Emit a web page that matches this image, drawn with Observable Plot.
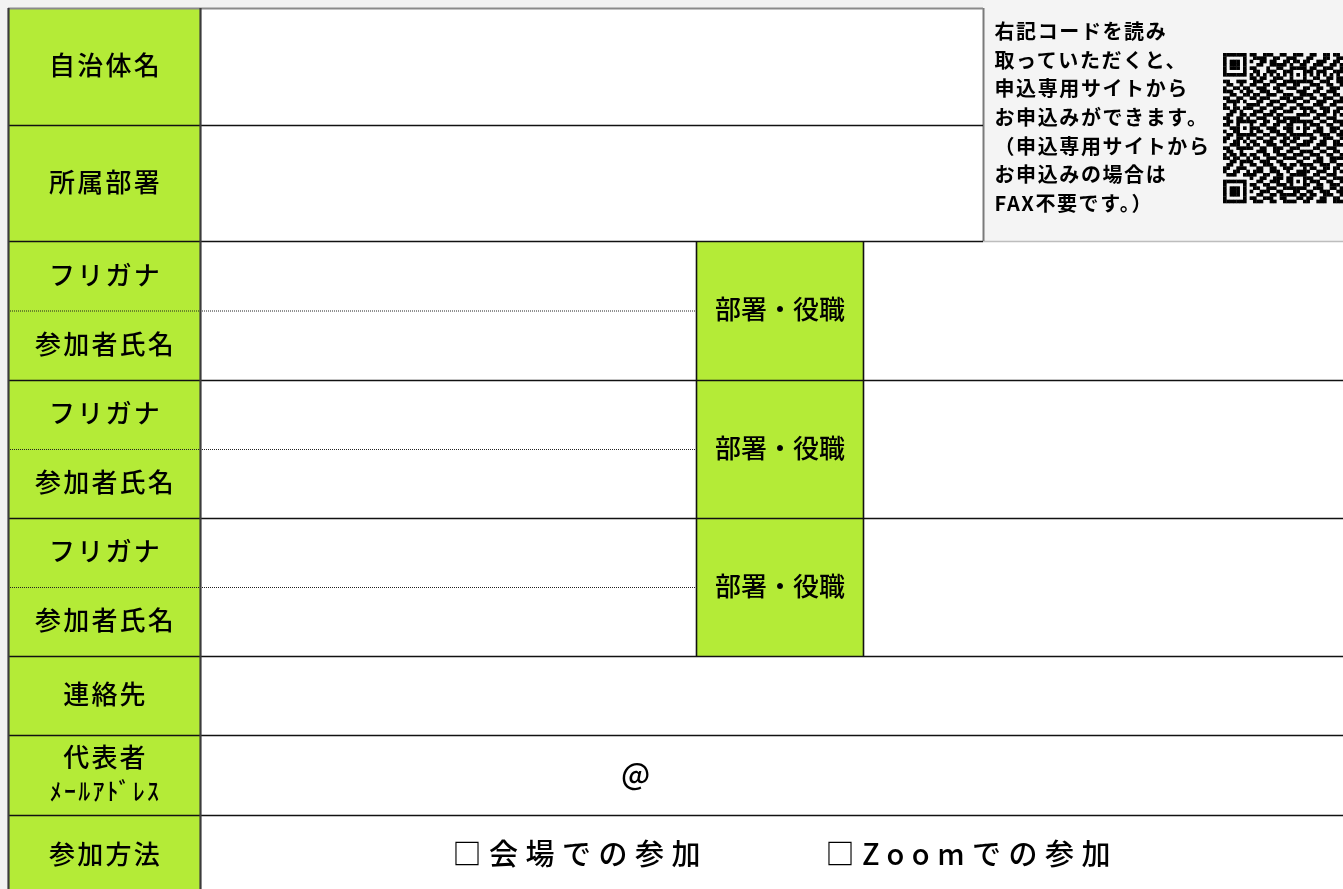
<!DOCTYPE html>
<html>
<head>
<meta charset="utf-8">
<script src="https://cdn.jsdelivr.net/npm/d3@7"></script>
<script src="https://cdn.jsdelivr.net/npm/@observablehq/plot@0.6"></script>
<style>
  html, body { margin: 0; padding: 0; background: #f2f2f2; overflow: hidden; }
  #chart svg { display: block; will-change: transform; }
</style>
</head>
<body>
<div id="chart"></div>
<script>
// ---------- content ----------
const headerLabels = ["自治体名", "所属部署"];
const participantLabels = ["フリガナ", "参加者氏名"];
const participantCount = 3;
const roleLabel = "部署・役職";
const contactLabels = [["連絡先"], ["代表者", "ﾒｰﾙｱﾄﾞﾚｽ"], ["参加方法"]];
const emailMark = "@";
const attendOptions = ["□会場での参加", "□Zoomでの参加"];
const qrNote = [
  "右記コードを読み",
  "取っていただくと、",
  "申込専用サイトから",
  "お申込みができます。",
  "（申込専用サイトから",
  "お申込みの場合は",
  "FAX不要です。）"
];
// QR code modules (1 = dark), visible columns only
const qrRows = [
  "11111110" + "110011100110" + "01110" + "011001101100",
  "10000010" + "011110011001" + "11000" + "110001100111",
  "10111010" + "100110110011" + "01101" + "100111001100",
  "10111010" + "001100111110" + "10011" + "001110011011",
  "10111010" + "110001001100" + "11111" + "011001110011",
  "10000010" + "011001110011" + "10001" + "110111001110",
  "11111110" + "101010101010" + "10101" + "010101010101",
  "00000000" + "110110011100" + "10001" + "001100110110",
  "11001110" + "011100110011" + "11111" + "110011100110",
  "01100100" + "110011001110" + "01100" + "011100110011",
  "10011011" + "001110011001" + "11001" + "100110011100",
  "11100101" + "100111001100" + "00111" + "001100111001",
  "00110011" + "011001110011" + "10011" + "110011001101",
  "11001100" + "110111000111" + "01110" + "011001110010",
  "01111010" + "001100111001" + "11001" + "100111001111",
  "10010001" + "111001100110" + "00110" + "001110011001",
  "11011011" + "100110011100" + "11011" + "110011100110",
  "00110100" + "011100110011" + "10001" + "011001101100",
  "01100110" + "110011101100" + "00111" + "100111001011",
  "11001101" + "001110011011" + "11100" + "001100111001",
  "01101111" + "110011001110" + "11111" + "110011001110",
  "11001000" + "100110011001" + "10001" + "011100110011",
  "00111010" + "111001110011" + "10101" + "100110011100",
  "10011000" + "101100111001" + "10001" + "001110011011",
  "01101111" + "110011001110" + "11111" + "110011100110",
  "11001101" + "001100110011" + "01100" + "011001110011",
  "10011010" + "110011100110" + "11001" + "110011001100",
  "00111001" + "011001110011" + "00111" + "100111001110",
  "11001111" + "100110011100" + "11100" + "001100111001",
  "01100100" + "001110011001" + "10011" + "110011001101",
  "10110110" + "110011001110" + "01110" + "011100110010",
  "11011001" + "011001110011" + "11001" + "100110011111",
  "00110111" + "100111001100" + "00110" + "001110011001",
  "01100100" + "110011100110" + "11011" + "110011100110",
  "11001110" + "001100110011" + "10001" + "011001101100",
  "10011001" + "011100111001" + "00111" + "100111001011",
  "01110011" + "110011001100" + "11111" + "001100111001",
  "00000000" + "100110011101" + "10001" + "110011001110",
  "11111110" + "001100111001" + "10101" + "011100110011",
  "10000010" + "110011001110" + "10001" + "100110011100",
  "10111010" + "011001110011" + "11111" + "001110011011",
  "10111010" + "100111001100" + "01100" + "110011100110",
  "10111010" + "001100110111" + "11011" + "011001110011",
  "10000010" + "110011100110" + "00110" + "110011001100",
  "11111110" + "011100110011" + "11001" + "100111001110"
];
const qrModules = 45; // modules per side (the right part is cut off in the picture)

// ---------- layout (form units) ----------
const W = 1343, H = 889;
const colEdges = [8, 200, 696, 863, 983, 1343];
const rowEdges = [8, 125, 241, 380, 518, 656, 735, 815, 895];
const qrBox = {left: 1223, top: 53, size: 150};
const noteBox = {left: 994, mid: 118, lineGap: 28.6};
const emailX = 635;
const optionX = [452, 825];
const twoLineGap = 34;

// ---------- styles ----------
const JP = "'Noto Sans CJK JP', 'Noto Sans', sans-serif";
const GREEN = "#b4eb37";

// ---------- derived tables ----------
const mid = (a, b) => (a + b) / 2;
const labelCells = [];
headerLabels.forEach((t, i) => labelCells.push({text: t, y: mid(rowEdges[i], rowEdges[i + 1]), size: 26}));
const dotted = [];
const roleCells = [];
for (let p = 0; p < participantCount; p++) {
  const top = rowEdges[2 + p], bot = rowEdges[3 + p], m = mid(top, bot);
  labelCells.push({text: participantLabels[0], y: mid(top, m), size: 26});
  labelCells.push({text: participantLabels[1], y: mid(m, bot), size: 26});
  dotted.push({y: m});
  roleCells.push({text: roleLabel, y: m});
}
contactLabels.forEach((lines, i) => {
  const m = mid(rowEdges[5 + i], rowEdges[6 + i]);
  lines.forEach((t, j) => labelCells.push({
    text: t,
    y: m + (j - (lines.length - 1) / 2) * twoLineGap,
    size: j === 0 ? 26 : 24
  }));
});

const solidH = [
  {y: rowEdges[1], x1: colEdges[0], x2: colEdges[4]},
  {y: rowEdges[2], x1: colEdges[0], x2: colEdges[4]},
  ...rowEdges.slice(3, 8).map(y => ({y, x1: colEdges[0], x2: colEdges[5]}))
];
const solidV = [
  {x: colEdges[2], y1: rowEdges[2], y2: rowEdges[5]},
  {x: colEdges[3], y1: rowEdges[2], y2: rowEdges[5]}
];
const frameV = [
  {x: colEdges[0], y1: rowEdges[0], y2: H},
  {x: colEdges[1], y1: rowEdges[0], y2: H}
];

const qrModule = qrBox.size / qrModules;
const qrCells = [];
qrRows.forEach((row, r) => [...row].forEach((ch, c) => { if (ch === "1") qrCells.push({r, c}); }));

const plot = Plot.plot({
  width: W,
  height: H,
  margin: 0,
  x: {domain: [0, W], range: [0, W], axis: null},
  y: {domain: [0, H], range: [0, H], axis: null},
  style: {background: "#f2f2f2"},
  marks: [
    // white form body
    Plot.rect([0], {x1: colEdges[0], x2: colEdges[5], y1: rowEdges[0], y2: H, fill: "white"}),
    // QR / note box
    Plot.rect([0], {x1: colEdges[4], x2: colEdges[5] + 5, y1: 0, y2: rowEdges[2], fill: "#f4f4f4"}),
    Plot.ruleY([0], {y: rowEdges[2], x1: colEdges[4], x2: colEdges[5], stroke: "#bdbdbd", strokeWidth: 1.5}),
    Plot.ruleX([0], {x: colEdges[4], y1: rowEdges[0], y2: rowEdges[2], stroke: "#7a7a7a", strokeWidth: 2}),
    // green label column and role column
    Plot.rect([0], {x1: colEdges[0], x2: colEdges[1], y1: rowEdges[0], y2: H, fill: GREEN}),
    Plot.rect(roleCells, {x1: colEdges[2], x2: colEdges[3], y1: (d, i) => rowEdges[2 + i], y2: (d, i) => rowEdges[3 + i], fill: GREEN}),
    // lines
    Plot.ruleY([0], {y: rowEdges[0], x1: colEdges[0], x2: colEdges[4], stroke: "#8a8a8a", strokeWidth: 2}),
    Plot.ruleY(dotted, {y: "y", x1: colEdges[0], x2: colEdges[2], stroke: "#222", strokeWidth: 1, strokeDasharray: "1,1"}),
    Plot.ruleY(solidH, {y: "y", x1: "x1", x2: "x2", stroke: "#111", strokeWidth: 1.6}),
    Plot.ruleX(solidV, {x: "x", y1: "y1", y2: "y2", stroke: "#111", strokeWidth: 1.6}),
    Plot.ruleX(frameV, {x: "x", y1: "y1", y2: "y2", stroke: "#3c3c3c", strokeWidth: 2.2}),
    // labels
    Plot.text(labelCells, {x: mid(colEdges[0], colEdges[1]), y: "y", text: "text",
      fontFamily: JP, fontSize: "size", fontWeight: 500, fill: "#000", dx: 1}),
    Plot.text(roleCells, {x: mid(colEdges[2], colEdges[3]), y: "y", text: "text",
      fontFamily: JP, fontSize: 26, fontWeight: 500, fill: "#000"}),
    Plot.text([emailMark], {x: emailX, y: mid(rowEdges[6], rowEdges[7]), text: d => d,
      fontFamily: JP, fontSize: 30, fontWeight: 500, fill: "#000"}),
    Plot.text(attendOptions, {x: (d, i) => optionX[i], y: mid(rowEdges[7], rowEdges[8]), text: d => d,
      textAnchor: "start", fontFamily: JP, fontSize: 29, fontWeight: 500, fill: "#000"}),
    // note text
    Plot.text(qrNote, {x: noteBox.left, y: (d, i) => noteBox.mid + (i - (qrNote.length - 1) / 2) * noteBox.lineGap, text: d => d,
      textAnchor: "start", fontFamily: JP, fontSize: 20, fontWeight: "bold", fill: "#000"}),
    // QR code
    Plot.rect(qrCells, {
      x1: d => qrBox.left + d.c * qrModule, x2: d => qrBox.left + (d.c + 1) * qrModule + 0.3,
      y1: d => qrBox.top + d.r * qrModule, y2: d => qrBox.top + (d.r + 1) * qrModule + 0.3,
      fill: "#000"
    })
  ]
});

// letter spacing by text content
const spacingFor = new Map();
labelCells.forEach(d => spacingFor.set(d.text, 2.2));
attendOptions.forEach(t => spacingFor.set(t, 7.5));
qrNote.forEach(t => spacingFor.set(t, 1.6));
plot.querySelectorAll("text").forEach(t => {
  const s = spacingFor.get(t.textContent);
  if (s != null) t.setAttribute("letter-spacing", s);
});
document.getElementById("chart").appendChild(plot);
</script>
</body>
</html>
